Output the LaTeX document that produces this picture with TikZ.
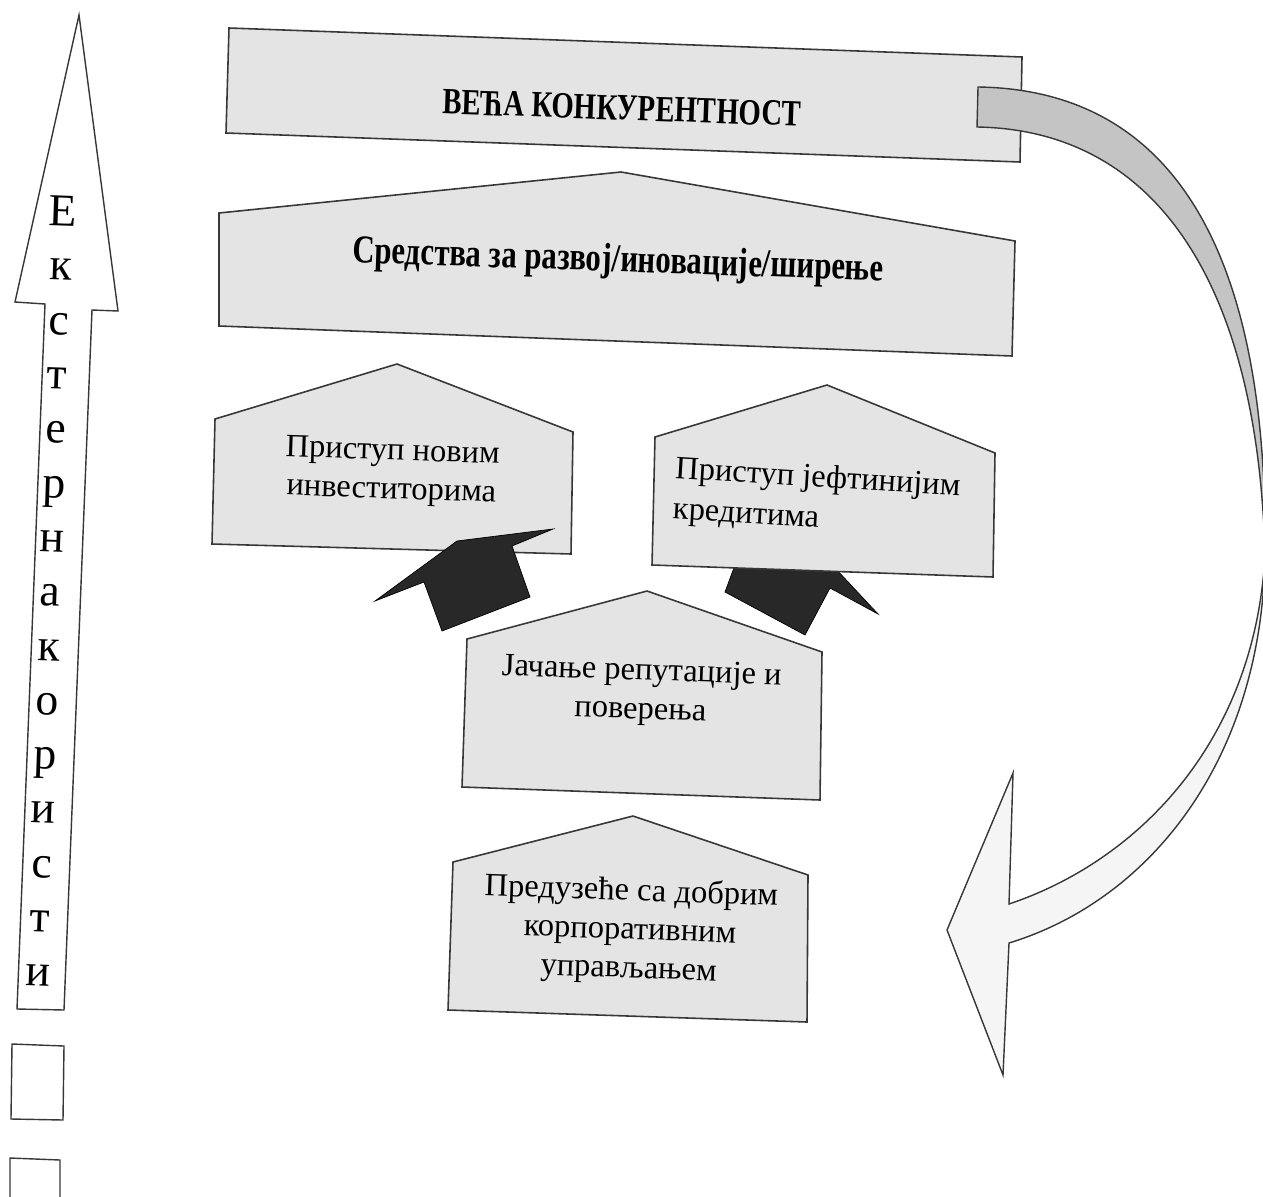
\documentclass[tikz,border=0pt]{standalone}
\usepackage{fontspec}
\setmainfont{Liberation Serif}
\newfontfamily\headfont[FakeStretch=0.78]{Liberation Serif}
\usepackage{xcolor}
\usepackage{tikz}
\definecolor{boxgray}{RGB}{228,228,228}
\definecolor{backgray}{RGB}{196,196,196}
\definecolor{frontwhite}{RGB}{245,245,245}
\definecolor{darkarrow}{RGB}{40,40,40}
\definecolor{edge}{RGB}{55,55,55}
\tikzstyle{box} = [draw=edge, line width=0.9pt, fill=boxgray]
\tikzstyle{ribbon} = [draw=edge, line width=0.8pt]
\tikzstyle{blk} = [fill=darkarrow]
\tikzstyle{head} = [font=\headfont\bfseries\fontsize{21}{25}\selectfont, rotate=-2]
\tikzstyle{txt} = [font=\fontsize{18.5}{22}\selectfont, rotate=-2, align=center]
\tikzstyle{letter} = [font=\fontsize{26}{30}\selectfont, rotate=-2, inner sep=0pt, anchor=base]

\begin{document}
\begin{tikzpicture}[x=0.02cm, y=-0.02cm]
\useasboundingbox (0,0) rectangle (1263,1196);
\clip (0,0) rectangle (1263,1196);

% top box and the back of the ribbon
\draw [box] (229,28) -- (1022,57) -- (1020,162) -- (226,133) -- cycle;
\draw [ribbon, fill=backgray] (978,87) .. controls (1190,90) and (1268,280) .. (1265,555)
  .. controls (1258,290) and (1160,130) .. (977,127) -- cycle;

\draw [box] (219,213) -- (621,172) -- (1015,241) -- (1012,356) -- (219,326) -- cycle;

% dark arrows
\draw [blk] (735,565) -- (725,592) -- (805,635) -- (830,588) -- (878,614) -- (835,568) -- cycle;
\draw [box] (215,419) -- (397,364) -- (573,432) -- (571,554) -- (212,544) -- cycle;
\draw [box] (655,437) -- (827,385) -- (995,453) -- (993,577) -- (652,565) -- cycle;
\draw [blk] (375,601) -- (457,541) -- (553,529) -- (512,546) -- (530,597) -- (442,631) -- (424,582) -- cycle;

\draw [box] (467,639) -- (647,591) -- (822,652) -- (820,800) -- (462,787) -- cycle;
\draw [box] (453,862) -- (633,816) -- (808,875) -- (807,1022) -- (448,1010) -- cycle;

% front of the ribbon with its head
\draw [ribbon, fill=frontwhite] (1265,555) .. controls (1262,760) and (1150,900) .. (1009,943)
  -- (1003,1075) -- (947,930) -- (1013,773) -- (1009,904)
  .. controls (1140,860) and (1255,740) .. (1265,555) -- cycle;

% left arrow
\draw [ribbon, fill=white] (79,15) -- (118,311) -- (92,310) -- (64,1010) -- (17,1009) -- (45,304) -- (15,302) -- cycle;
\foreach \c [count=\i from 0] in {Е,к,с,т,е,р,н,а,к,о,р,и,с,т,и}
  \node [letter] (l\i) at ({62-24*\i/14},{226+54.3*\i}) {\c};

\draw [ribbon, fill=white] (12,1044) -- (64,1046) -- (63,1120) -- (11,1119) -- cycle;
\draw [ribbon, fill=white] (10,1158) -- (60,1160) -- (60,1205) -- (10,1205) -- cycle;

% texts
\node (1) [head] at (622,108) {ВЕЋА КОНКУРЕНТНОСТ};
\node (2) [head, font=\headfont\bfseries\fontsize{22.5}{26}\selectfont] at (618,262) {Средства за развој/иновације/ширење};
\node (3) [txt] at (392,472) {Приступ новим\\инвеститорима};
\node (4) [txt, anchor=west, align=left, rotate=-1.5, font=\fontsize{18.5}{23}\selectfont] at (668,490) {Приступ јефтинијим\\кредитима};
\node (5) [txt] at (641,692) {Јачање репутације и\\поверења};
\node (6) [txt] at (630,931) {Предузеће са добрим\\корпоративним\\управљањем};

\end{tikzpicture}
\end{document}
